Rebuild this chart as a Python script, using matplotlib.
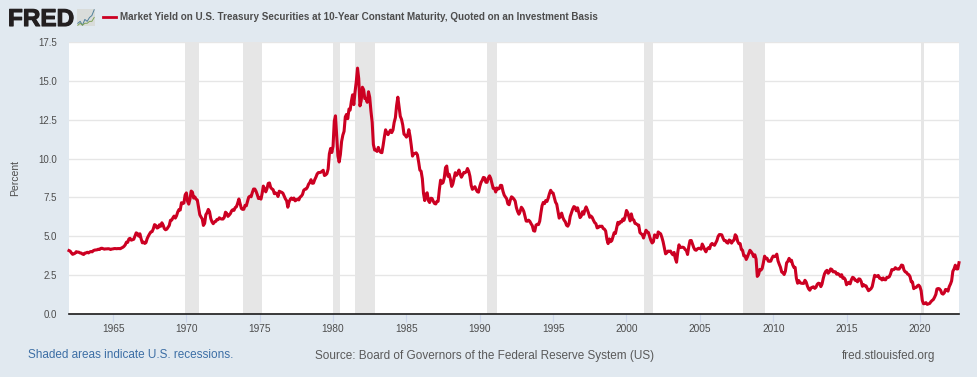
import datetime as dt
import pandas as pd
import matplotlib
matplotlib.use('Agg')
import matplotlib.pyplot as plt
import matplotlib.dates as mdates
import matplotlib.patheffects as pe

plt.rcParams['font.family'] = ['Liberation Sans', 'DejaVu Sans']

yields = [
    4.08, 4.04, 3.93, 3.84, 3.87, 3.91, 4.01, 3.98, 3.98, 3.93, 3.92, 3.86,
    3.83, 3.92, 3.93, 3.97, 3.93, 3.99, 4.02, 4.00, 4.08, 4.11, 4.12, 4.13,
    4.17, 4.15, 4.22, 4.23, 4.20, 4.17, 4.19, 4.19, 4.20, 4.19, 4.15, 4.18,
    4.19, 4.21, 4.21, 4.20, 4.21, 4.21, 4.20, 4.25, 4.29, 4.35, 4.45, 4.62,
    4.61, 4.83, 4.87, 4.75, 4.78, 4.81, 5.02, 5.22, 5.18, 5.01, 5.16, 4.84,
    4.58, 4.63, 4.54, 4.59, 4.85, 5.02, 5.16, 5.28, 5.30, 5.48, 5.75, 5.70,
    5.53, 5.56, 5.74, 5.64, 5.87, 5.72, 5.50, 5.42, 5.46, 5.58, 5.70, 6.03,
    6.04, 6.19, 6.30, 6.17, 6.32, 6.57, 6.72, 6.69, 7.16, 7.10, 7.14, 7.65,
    7.79, 7.24, 7.07, 7.39, 7.91, 7.84, 7.46, 7.53, 7.39, 7.33, 6.84, 6.39,
    6.24, 6.11, 5.70, 5.83, 6.39, 6.52, 6.73, 6.58, 6.14, 5.93, 5.81, 5.93,
    5.95, 6.08, 6.07, 6.19, 6.13, 6.11, 6.11, 6.21, 6.55, 6.48, 6.28, 6.36,
    6.46, 6.64, 6.71, 6.67, 6.85, 6.90, 7.13, 7.40, 7.09, 6.79, 6.73, 6.74,
    6.99, 6.96, 7.21, 7.51, 7.58, 7.54, 7.81, 8.04, 8.04, 7.90, 7.68, 7.43,
    7.50, 7.39, 7.73, 8.23, 8.06, 7.86, 8.06, 8.40, 8.43, 8.14, 8.05, 8.00,
    7.74, 7.79, 7.73, 7.56, 7.90, 7.86, 7.83, 7.77, 7.59, 7.41, 7.29, 6.87,
    7.21, 7.39, 7.46, 7.37, 7.46, 7.28, 7.33, 7.40, 7.34, 7.52, 7.58, 7.69,
    7.96, 8.03, 8.04, 8.15, 8.35, 8.46, 8.64, 8.41, 8.42, 8.64, 8.81, 9.01,
    9.10, 9.10, 9.12, 9.18, 9.25, 8.91, 8.95, 9.03, 9.33, 10.30, 10.65, 10.39,
    10.80, 12.41, 12.75, 11.47, 10.18, 9.78, 10.25, 11.10, 11.51, 11.75, 12.68, 12.84,
    12.57, 13.19, 13.12, 13.68, 14.10, 13.47, 14.28, 14.94, 15.82, 15.15, 13.39, 13.72,
    14.59, 14.43, 13.86, 13.87, 13.62, 14.30, 13.95, 13.06, 12.34, 10.91, 10.55, 10.54,
    10.46, 10.72, 10.51, 10.40, 10.38, 10.85, 11.38, 11.85, 11.65, 11.54, 11.69, 11.83,
    11.67, 11.84, 12.32, 12.63, 13.41, 13.95, 13.36, 12.72, 12.52, 12.16, 11.57, 11.50,
    11.38, 11.51, 11.86, 11.43, 10.85, 10.16, 10.31, 10.33, 10.37, 10.24, 9.78, 9.26,
    9.19, 8.70, 7.78, 7.30, 7.71, 7.80, 7.30, 7.17, 7.45, 7.43, 7.25, 7.11,
    7.08, 7.25, 7.25, 8.02, 8.61, 8.40, 8.45, 8.76, 9.42, 9.52, 8.86, 8.99,
    8.67, 8.21, 8.37, 8.72, 9.09, 8.92, 9.06, 9.26, 8.98, 8.80, 8.96, 9.11,
    9.09, 9.17, 9.36, 9.18, 8.86, 8.28, 8.02, 8.11, 8.19, 8.01, 7.87, 7.84,
    8.21, 8.47, 8.59, 8.79, 8.76, 8.48, 8.47, 8.75, 8.89, 8.72, 8.39, 8.08,
    8.09, 7.85, 8.11, 8.04, 8.07, 8.28, 8.27, 7.90, 7.65, 7.53, 7.42, 7.09,
    7.03, 7.34, 7.54, 7.48, 7.39, 7.26, 6.84, 6.59, 6.42, 6.59, 6.87, 6.77,
    6.60, 6.26, 5.98, 5.97, 6.04, 5.96, 5.81, 5.68, 5.36, 5.33, 5.72, 5.77,
    5.75, 5.97, 6.48, 6.97, 7.18, 7.10, 7.30, 7.24, 7.46, 7.74, 7.96, 7.81,
    7.78, 7.47, 7.20, 7.06, 6.63, 6.17, 6.28, 6.49, 6.20, 6.04, 5.93, 5.71,
    5.65, 5.81, 6.27, 6.51, 6.74, 6.91, 6.87, 6.64, 6.83, 6.53, 6.20, 6.30,
    6.58, 6.42, 6.69, 6.89, 6.71, 6.49, 6.22, 6.30, 6.21, 6.03, 5.88, 5.81,
    5.54, 5.57, 5.65, 5.64, 5.65, 5.50, 5.46, 5.34, 4.81, 4.53, 4.83, 4.65,
    4.72, 5.00, 5.23, 5.18, 5.54, 5.90, 5.79, 5.94, 5.92, 6.11, 6.03, 6.28,
    6.66, 6.52, 6.26, 5.99, 6.44, 6.10, 6.05, 5.83, 5.80, 5.74, 5.72, 5.24,
    5.16, 5.10, 4.89, 5.14, 5.39, 5.28, 5.24, 4.97, 4.73, 4.57, 4.65, 5.09,
    5.04, 4.91, 5.28, 5.21, 5.16, 4.93, 4.65, 4.26, 3.87, 3.94, 4.05, 4.03,
    4.05, 3.90, 3.81, 3.96, 3.57, 3.33, 3.98, 4.45, 4.27, 4.29, 4.30, 4.27,
    4.15, 4.08, 3.83, 4.35, 4.72, 4.73, 4.50, 4.28, 4.13, 4.10, 4.19, 4.23,
    4.22, 4.17, 4.50, 4.34, 4.14, 4.00, 4.18, 4.26, 4.20, 4.46, 4.54, 4.47,
    4.42, 4.57, 4.72, 4.99, 5.11, 5.11, 5.09, 4.88, 4.72, 4.73, 4.60, 4.56,
    4.76, 4.72, 4.56, 4.69, 4.75, 5.10, 5.00, 4.67, 4.52, 4.53, 4.15, 4.10,
    3.74, 3.74, 3.51, 3.68, 3.88, 4.10, 4.01, 3.89, 3.69, 3.81, 3.53, 2.42,
    2.52, 2.87, 2.82, 2.93, 3.29, 3.72, 3.56, 3.59, 3.40, 3.39, 3.40, 3.59,
    3.73, 3.69, 3.73, 3.85, 3.42, 3.20, 3.01, 2.70, 2.65, 2.54, 2.76, 3.29,
    3.39, 3.58, 3.41, 3.46, 3.17, 3.00, 3.00, 2.30, 1.98, 2.15, 2.01, 1.98,
    1.97, 1.97, 2.17, 2.05, 1.80, 1.62, 1.53, 1.68, 1.72, 1.75, 1.65, 1.72,
    1.91, 1.98, 1.96, 1.76, 1.93, 2.30, 2.58, 2.74, 2.81, 2.62, 2.72, 2.90,
    2.86, 2.71, 2.72, 2.71, 2.56, 2.60, 2.54, 2.42, 2.53, 2.30, 2.33, 2.21,
    1.88, 1.98, 2.04, 1.94, 2.20, 2.36, 2.32, 2.17, 2.17, 2.07, 2.26, 2.24,
    2.09, 1.78, 1.89, 1.81, 1.81, 1.64, 1.50, 1.56, 1.63, 1.76, 2.14, 2.49,
    2.43, 2.42, 2.48, 2.30, 2.30, 2.19, 2.32, 2.21, 2.20, 2.36, 2.35, 2.40,
    2.58, 2.86, 2.84, 2.87, 2.98, 2.91, 2.89, 2.89, 3.00, 3.15, 3.12, 2.83,
    2.71, 2.68, 2.57, 2.53, 2.40, 2.07, 2.06, 1.63, 1.70, 1.71, 1.81, 1.86,
    1.76, 1.50, 0.87, 0.66, 0.67, 0.73, 0.62, 0.65, 0.68, 0.79, 0.87, 0.93,
    1.08, 1.26, 1.61, 1.64, 1.62, 1.52, 1.32, 1.28, 1.37, 1.58, 1.56, 1.47,
    1.76, 1.93, 2.13, 2.75, 2.90, 3.14, 2.90, 2.90, 3.30,
]
recession_start = ['1969-12', '1973-11', '1980-01', '1981-07', '1990-07', '2001-03', '2007-12', '2020-02']
recession_end = ['1970-11', '1975-03', '1980-07', '1982-11', '1991-03', '2001-11', '2009-06', '2020-04']
y_ticks = [0, 2.5, 5, 7.5, 10, 12.5, 15, 17.5]
x_years = [1965, 1970, 1975, 1980, 1985, 1990, 1995, 2000, 2005, 2010, 2015, 2020]
logo_line1 = [2, 3, 1, 4, 3, 5, 6, 9]
logo_line2 = [1, 2, 1, 2, 2, 3, 3, 5]

W, H = 977, 377
BG = '#e1e9f0'
RED = '#cc0022'
TXT = '#595959'

dates = pd.date_range('1962-01-01', periods=len(yields), freq='MS')

fig = plt.figure(figsize=(W / 100, H / 100), dpi=100, facecolor=BG)
ax = fig.add_axes([69 / W, 1 - 314 / H, (959 - 69) / W, (314 - 42) / H])
ax.set_facecolor('white')

for s, e in zip(recession_start, recession_end):
    ax.axvspan(pd.Timestamp(s), pd.Timestamp(e), color='#e6e6e6', lw=0, zorder=1)

ax.plot(dates, yields, color=RED, lw=2.2, solid_joinstyle='round', zorder=3, clip_on=False)

ax.set_xlim(dt.datetime(1962, 1, 1), dt.datetime(2022, 9, 1))
ax.set_ylim(0, 17.5)
ax.set_yticks(y_ticks)
ax.set_yticklabels(['%.1f' % v for v in y_ticks], fontsize=7, color='#4d4d4d')
ax.set_xticks([dt.datetime(y, 1, 1) for y in x_years])
ax.xaxis.set_major_formatter(mdates.DateFormatter('%Y'))
ax.tick_params(axis='y', length=0, pad=8.6)
ax.tick_params(axis='x', length=6, width=0.8, color='#ccd6eb', labelsize=7.3,
               labelcolor='#4d4d4d', pad=1.5)
ax.grid(axis='y', color='#e6e6e6', lw=1, zorder=0)
ax.set_axisbelow(True)
for name in ['top', 'left', 'right']:
    ax.spines[name].set_visible(False)
ax.spines['bottom'].set_color('#1a1a1a')
ax.spines['bottom'].set_linewidth(1.2)
ax.spines['bottom'].set_zorder(4)
ax.set_ylabel('Percent', fontsize=7.5, color='#4d4d4d', labelpad=0)
ax.yaxis.set_label_coords((20 - 69) / (959 - 69), 0.5)

# header
logo = fig.text(8 / W, 1 - 26 / H, 'FRED', fontsize=17.5, fontweight='bold', color='#231f20',
                va='baseline', ha='left')
logo.set_path_effects([pe.withStroke(linewidth=0.8, foreground='#231f20')])
icon = fig.add_axes([77 / W, 1 - 26 / H, 18 / W, 17 / H])
icon.add_patch(plt.Rectangle((0, 0), 1, 1, transform=icon.transAxes, color='#d9dcda', zorder=0))
icon.plot(logo_line1, color='#4f7f9b', lw=0.7)
icon.plot(logo_line2, color='#7fa35a', lw=0.7)
icon.set_axis_off()
fig.add_artist(plt.Line2D([103 / W, 116 / W], [1 - 17 / H, 1 - 17 / H], color=RED, lw=2))
fig.text(120 / W, 1 - 17 / H,
         'Market Yield on U.S. Treasury Securities at 10-Year Constant Maturity, Quoted on an Investment Basis',
         fontsize=7.15, fontweight='bold', color='#4d4d4d', va='center', ha='left')

# footer
fig.text(28 / W, 1 - 355.5 / H, 'Shaded areas indicate U.S. recessions.', fontsize=8.45,
         color='#3c6ea5', va='center', ha='left')
fig.text(315 / W, 1 - 355.5 / H, 'Source: Board of Governors of the Federal Reserve System (US)',
         fontsize=8.5, color=TXT, va='center', ha='left')
fig.text(935 / W, 1 - 355.5 / H, 'fred.stlouisfed.org', fontsize=8.5, color=TXT,
         va='center', ha='right')

fig.savefig('out.png', dpi=100, facecolor=BG)
